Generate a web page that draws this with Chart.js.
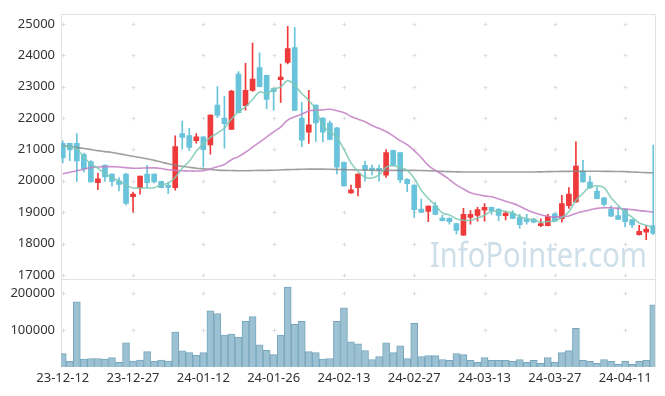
<!DOCTYPE html>
<html>
<head>
<meta charset="utf-8">
<script src="https://cdn.jsdelivr.net/npm/chart.js@4.4.0/dist/chart.umd.min.js"></script>
<style>
  html, body { margin: 0; padding: 0; background: #fff; }
  #wrap { width: 665px; height: 396px; }
</style>
</head>
<body>
<div id="wrap"><canvas id="stockChart" width="665" height="396"></canvas></div>
<script>
// ================================ data =============================
var dates = [
  "23-12-12", "23-12-13", "23-12-14", "23-12-15", "23-12-18", "23-12-19", "23-12-20", "23-12-21", "23-12-22", "23-12-26",
  "23-12-27", "23-12-28", "24-01-02", "24-01-03", "24-01-04", "24-01-05", "24-01-08", "24-01-09", "24-01-10", "24-01-11",
  "24-01-12", "24-01-15", "24-01-16", "24-01-17", "24-01-18", "24-01-19", "24-01-22", "24-01-23", "24-01-24", "24-01-25",
  "24-01-26", "24-01-29", "24-01-30", "24-01-31", "24-02-01", "24-02-02", "24-02-05", "24-02-06", "24-02-07", "24-02-08",
  "24-02-13", "24-02-14", "24-02-15", "24-02-16", "24-02-19", "24-02-20", "24-02-21", "24-02-22", "24-02-23", "24-02-26",
  "24-02-27", "24-02-28", "24-02-29", "24-03-04", "24-03-05", "24-03-06", "24-03-07", "24-03-08", "24-03-11", "24-03-12",
  "24-03-13", "24-03-14", "24-03-15", "24-03-18", "24-03-19", "24-03-20", "24-03-21", "24-03-22", "24-03-25", "24-03-26",
  "24-03-27", "24-03-28", "24-03-29", "24-04-01", "24-04-02", "24-04-03", "24-04-04", "24-04-05", "24-04-08", "24-04-09",
  "24-04-11", "24-04-12", "24-04-15", "24-04-16", "24-04-17"
];

var openPrice = [
  21190, 21190, 21190, 20840, 20610, 19940, 20500, 20210, 20000, 20210,
  19490, 19780, 20210, 20210, 19980, 19810, 19780, 21500, 21440, 21280,
  21400, 21140, 22410, 22000, 21640, 23400, 22390, 22880, 23610, 23360,
  22940, 23220, 23770, 24240, 22000, 21550, 22410, 22000, 21840, 21690,
  20590, 19610, 19780, 20490, 20360, 20350, 20180, 20970, 20900, 20050,
  19860, 19100, 19020, 19200, 18810, 18800, 18640, 18270, 18830, 18900,
  19060, 19150, 19100, 18890, 18970, 18830, 18780, 18780, 18570, 18570,
  18950, 18790, 19210, 19330, 20310, 19960, 19670, 19460, 19100, 18890,
  19100, 18760, 18280, 18360, 18570
];
var highPrice = [
  21270, 21200, 21500, 20880, 20640, 20240, 20510, 20220, 20100, 20240,
  19640, 20150, 20490, 20220, 19990, 19960, 21430, 21900, 21670, 21500,
  21410, 22100, 23000, 22690, 22880, 23480, 23740, 24390, 24080, 23370,
  22950, 23720, 24920, 24890, 22500, 22880, 22420, 22010, 21900, 21700,
  20600, 19860, 20220, 20630, 20500, 20500, 20990, 20980, 20910, 20070,
  19870, 19420, 19200, 19310, 18910, 18820, 18650, 19120, 19050, 19150,
  19270, 19160, 19110, 19010, 19050, 18930, 18930, 18800, 18790, 18930,
  18960, 19540, 19780, 21240, 20650, 20150, 19800, 19470, 19200, 19160,
  19110, 18770, 18580, 18580, 21140
];
var lowPrice = [
  20570, 20640, 19980, 20280, 19960, 19720, 19980, 19830, 19680, 19230,
  19010, 19570, 19780, 19930, 19770, 19590, 19700, 21010, 20960, 21200,
  20430, 20850, 22010, 21040, 21640, 22160, 22250, 22850, 22990, 22300,
  22250, 22500, 23720, 22230, 21090, 21190, 21250, 21240, 21300, 20220,
  19830, 19600, 19520, 19990, 20190, 19990, 20110, 20480, 19940, 19650,
  18830, 18980, 18700, 18920, 18720, 18620, 18310, 18260, 18620, 18710,
  18710, 18930, 18730, 18750, 18790, 18490, 18620, 18660, 18540, 18560,
  18700, 18680, 19120, 19310, 19950, 19760, 19420, 19200, 18860, 18760,
  18530, 18510, 18270, 18120, 18280
];
var closePrice = [
  20730, 20980, 20630, 20380, 19960, 20060, 20120, 19980, 19880, 19280,
  19580, 20150, 19940, 19960, 19780, 19790, 21090, 21380, 21060, 21400,
  20990, 22090, 22080, 21820, 22860, 22170, 22880, 23240, 23000, 22590,
  22840, 23300, 24210, 22240, 21290, 21780, 21840, 21550, 21320, 20430,
  19840, 19710, 20210, 20350, 20340, 20330, 20900, 20490, 20030, 19910,
  19080, 18990, 19190, 18930, 18730, 18700, 18420, 18930, 18930, 19080,
  19150, 19050, 18900, 18970, 18800, 18600, 18700, 18680, 18640, 18860,
  18710, 19270, 19580, 20470, 19960, 19770, 19430, 19250, 18870, 18770,
  18700, 18590, 18390, 18460, 18320
];
var volume = [
  36400, 15100, 177000, 21200, 23000, 23000, 21200, 25700, 12500, 65500,
  15900, 18600, 41600, 15100, 18600, 15900, 94700, 44200, 39000, 31900,
  39000, 153000, 145000, 86700, 89400, 81400, 124000, 137000, 60200, 45100,
  33700, 86700, 217000, 116000, 124000, 41600, 39000, 21200, 23000, 124000,
  161000, 68200, 62900, 44300, 20400, 28400, 65600, 39000, 57600, 23100,
  119000, 28400, 31000, 31000, 20400, 17800, 36400, 33700, 17800, 12500,
  25700, 17800, 17800, 17800, 15100, 20400, 12500, 17800, 9800, 25700,
  12500, 39000, 44300, 105000, 17800, 15100, 9800, 20400, 15100, 7200,
  15100, 7200, 15100, 17800, 169000
];
// moving average lines
var ma5 = [
  21090, 21085, 21010, 20750, 20540, 20400, 20230, 20100, 20000, 19860,
  19770, 19770, 19770, 19780, 19880, 19920, 20110, 20400, 20620, 20940,
  21180, 21380, 21520, 21680, 21970, 22200, 22360, 22590, 22830, 22780,
  22910, 22990, 23190, 23040, 22780, 22560, 22270, 21740, 21560, 21380,
  21000, 20570, 20300, 20110, 20090, 20190, 20430, 20480, 20420, 20330,
  20080, 19700, 19440, 19220, 18980, 18910, 18790, 18740, 18740, 18810,
  18900, 19030, 19020, 19030, 18970, 18860, 18790, 18750, 18680, 18700,
  18720, 18830, 19010, 19380, 19600, 19810, 19840, 19780, 19460, 19220,
  19000, 18840, 18660, 18580, 18490
];
var ma20 = [
  20220, 20270, 20320, 20370, 20420, 20440, 20450, 20450, 20440, 20420,
  20400, 20400, 20410, 20410, 20390, 20350, 20330, 20320, 20310, 20310,
  20320, 20380, 20450, 20520, 20670, 20770, 20910, 21070, 21230, 21390,
  21560, 21710, 21930, 22040, 22120, 22220, 22250, 22260, 22280, 22230,
  22170, 22050, 21960, 21880, 21760, 21670, 21570, 21430, 21280, 21150,
  20960, 20740, 20490, 20330, 20200, 20040, 19870, 19740, 19620, 19560,
  19520, 19490, 19420, 19350, 19280, 19190, 19080, 18990, 18920, 18870,
  18850, 18860, 18880, 18960, 19020, 19070, 19120, 19140, 19140, 19120,
  19100, 19080, 19050, 19030, 19000
];
var ma60 = [
  21120, 21090, 21060, 21030, 20995, 20960, 20930, 20900, 20860, 20820,
  20780, 20740, 20700, 20650, 20600, 20540, 20490, 20460, 20430, 20400,
  20380, 20360, 20340, 20330, 20325, 20320, 20320, 20325, 20330, 20330,
  20335, 20345, 20355, 20360, 20365, 20370, 20370, 20370, 20365, 20360,
  20355, 20350, 20345, 20340, 20335, 20330, 20330, 20330, 20330, 20330,
  20330, 20325, 20320, 20310, 20300, 20290, 20285, 20280, 20280, 20280,
  20280, 20280, 20280, 20280, 20280, 20280, 20280, 20280, 20285, 20290,
  20295, 20300, 20300, 20305, 20305, 20305, 20305, 20300, 20300, 20295,
  20290, 20280, 20270, 20260, 20250
];
var priceTicks = [17000, 18000, 19000, 20000, 21000, 22000, 23000, 24000, 25000];
var volumeTicks = [100000, 200000];
var dateTicks = [0, 10, 20, 30, 40, 50, 60, 70, 80];

// ================================ helpers =============================
var RED = "#ee3a3a";
var BLUE = "#69c3da";

function candleColor(ctx) {
  var i = ctx.dataIndex;
  return closePrice[i] >= openPrice[i] ? RED : BLUE;
}
function toPoints(arr) {
  return arr.map(function (v, i) { return { x: i, y: v }; });
}
function setTicks(list) {
  return function (scale) {
    scale.ticks = list.map(function (v) { return { value: v }; });
  };
}
function plainNumber(v) {
  return String(v);
}

// grid crosses, panel frames and the watermark
var panelDecor = {
  id: "panelDecor",
  beforeDatasetsDraw: function (chart) {
    var c = chart.ctx;
    var xs = chart.scales.x, yp = chart.scales.y, yv = chart.scales.yVol;
    var area = chart.chartArea;
    c.save();

    // watermark
    c.font = "35px 'Noto Sans'";
    c.fillStyle = "rgba(190, 212, 225, 0.75)";
    var w = c.measureText("InfoPointer.com").width;
    c.save();
    c.translate(430, 267);
    c.scale(217 / w, 1);
    c.fillText("InfoPointer.com", 0, 0);
    c.restore();

    // small "+" marks at grid intersections
    c.strokeStyle = "#dcdcdc";
    c.lineWidth = 1;
    function plus(px, py) {
      px = Math.round(px) + 0.5;
      py = Math.round(py) + 0.5;
      c.beginPath();
      c.moveTo(px - 2, py); c.lineTo(px + 2, py);
      c.moveTo(px, py - 2); c.lineTo(px, py + 2);
      c.stroke();
    }
    dateTicks.forEach(function (t) {
      var px = xs.getPixelForValue(t);
      priceTicks.forEach(function (p) { plus(px, yp.getPixelForValue(p)); });
      volumeTicks.forEach(function (v) { plus(px, yv.getPixelForValue(v)); });
    });

    // frames
    c.strokeStyle = "#e2e2e2";
    var l = Math.round(area.left) + 0.5, r = Math.round(area.right) + 0.5;
    var t = Math.round(yp.top) + 0.5, mid = Math.round(yp.bottom) + 0.5, b = Math.round(yv.bottom) + 0.5;
    c.beginPath();
    c.moveTo(l, t); c.lineTo(r, t); c.lineTo(r, b);
    c.moveTo(l, t); c.lineTo(l, b);
    c.moveTo(l, mid); c.lineTo(r, mid);
    c.stroke();
    c.restore();
  }
};

// ================================ chart =============================
var wickData = dates.map(function (d, i) { return { x: i, y: [lowPrice[i], highPrice[i]] }; });
var bodyData = dates.map(function (d, i) { return { x: i, y: [openPrice[i], closePrice[i]] }; });

var ctx = document.getElementById("stockChart").getContext("2d");
var stockChart = new Chart(ctx, {
  type: "bar",
  data: {
    datasets: [
      {
        type: "line", label: "MA5", data: toPoints(ma5), yAxisID: "y",
        borderColor: "rgba(125, 200, 180, 0.85)", borderWidth: 1.6,
        pointRadius: 0, tension: 0.4, order: 1
      },
      {
        type: "line", label: "MA20", data: toPoints(ma20), yAxisID: "y",
        borderColor: "rgba(195, 125, 195, 0.85)", borderWidth: 1.6,
        pointRadius: 0, tension: 0.4, order: 1
      },
      {
        type: "line", label: "MA60", data: toPoints(ma60), yAxisID: "y",
        borderColor: "rgba(135, 135, 135, 0.8)", borderWidth: 1.6,
        pointRadius: 0, tension: 0.4, order: 1
      },
      {
        label: "wick", data: wickData, yAxisID: "y",
        backgroundColor: candleColor, barThickness: 1, grouped: false, order: 3
      },
      {
        label: "body", data: bodyData, yAxisID: "y",
        backgroundColor: candleColor, barThickness: 5, minBarLength: 2, grouped: false, order: 2
      },
      {
        label: "volume", data: toPoints(volume), yAxisID: "yVol",
        backgroundColor: "#9bc1d2", borderColor: "#78a6bc", borderWidth: 1,
        barThickness: 7, grouped: false, order: 4
      }
    ]
  },
  options: {
    responsive: false,
    animation: false,
    events: [],
    layout: { padding: { top: 10, right: 10, left: 0, bottom: 0 } },
    plugins: { legend: { display: false }, tooltip: { enabled: false } },
    scales: {
      x: {
        type: "linear",
        min: -0.25,
        max: 84.25,
        offset: false,
        grid: { display: false, drawTicks: false },
        border: { display: false },
        afterBuildTicks: setTicks(dateTicks),
        afterFit: function (s) { s.height = 29; },
        ticks: {
          autoSkip: false,
          maxRotation: 0,
          padding: 3,
          color: "#333",
          font: { family: "'Noto Sans'", size: 13 },
          callback: function (v) { return dates[v]; }
        }
      },
      y: {
        type: "linear",
        position: "left",
        stack: "panels",
        stackWeight: 3,
        weight: 2,
        min: 16880,
        max: 25320,
        grid: { display: false, drawTicks: false },
        border: { display: false },
        afterBuildTicks: setTicks(priceTicks),
        afterFit: function (s) { s.width = 61; },
        ticks: {
          autoSkip: false, padding: 6, color: "#333",
          font: { family: "'Noto Sans'", size: 13 }, callback: plainNumber
        }
      },
      yVol: {
        type: "linear",
        position: "left",
        stack: "panels",
        stackWeight: 1,
        weight: 1,
        min: 0,
        max: 240000,
        grid: { display: false, drawTicks: false },
        border: { display: false },
        afterBuildTicks: setTicks(volumeTicks),
        afterFit: function (s) { s.width = 61; },
        ticks: {
          autoSkip: false, padding: 6, color: "#333",
          font: { family: "'Noto Sans'", size: 13 }, callback: plainNumber
        }
      }
    }
  },
  plugins: [panelDecor]
});
</script>
</body>
</html>
